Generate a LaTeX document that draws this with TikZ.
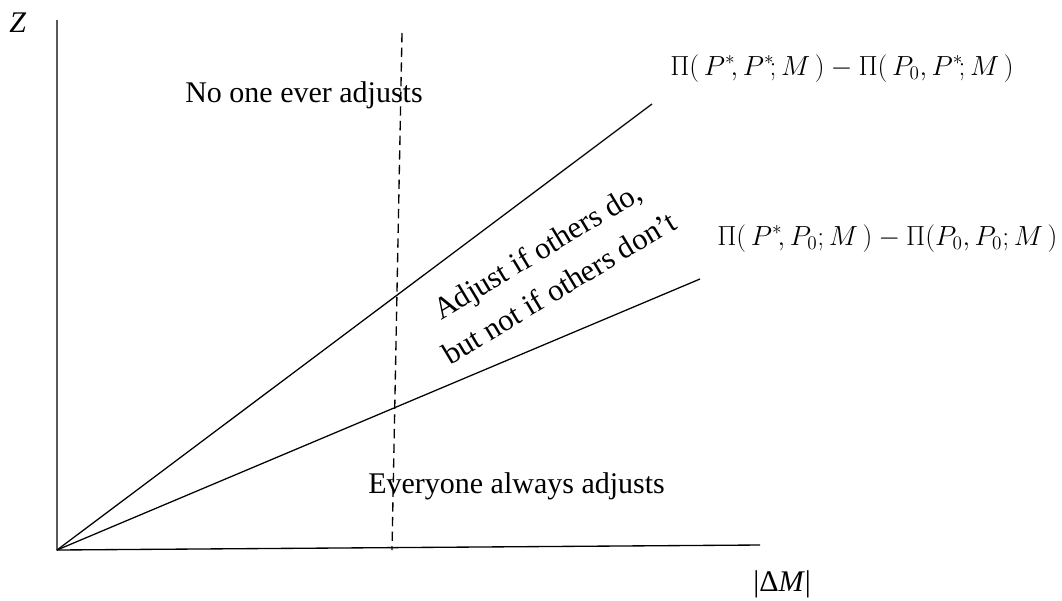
\documentclass[tikz,border=0pt]{standalone}
\usepackage{fontspec}
\setmainfont{Liberation Serif}
\begin{document}
\begin{tikzpicture}[x=0.75pt,y=-0.75pt,
  axis/.style={line width=1pt},
  curve/.style={line width=0.95pt},
  lbl/.style={inner sep=0pt,font=\fontsize{22.5}{27}\selectfont},
  frm/.style={inner sep=0pt,anchor=base west,font=\fontsize{20}{24}\selectfont}]
\useasboundingbox (0,0) rectangle (1062,600);
\coordinate (O) at (57,550);
\coordinate (ytop) at (57,20);
\coordinate (xend) at (760,545);
\coordinate (u) at (652,104);
\coordinate (l) at (700,279);
\coordinate (dtop) at (402,33);
\coordinate (dbot) at (392,550);
\draw[axis] (ytop) -- (O) -- (xend);
\draw[curve] (O) -- (u);
\draw[curve] (O) -- (l);
\draw[line width=1pt,dash pattern=on 7pt off 4pt] (dtop) -- (dbot);
\node[lbl,anchor=base west] (z) at (9,32) {\itshape Z};
\node[lbl,anchor=base west] (dm) at (753,591) {|Δ\textit{M}|};
\node[lbl,anchor=base west] (no) at (185,102) {No one ever adjusts};
\node[lbl,anchor=base west] (ev) at (368,493) {Everyone always adjusts};
\node[inner sep=0pt,font=\fontsize{23}{32}\selectfont,rotate=31,align=center] (mid) at (548,269) {Adjust if others do,\\but not if others don’t};
\node[frm] (f1) at (670,75) {$\Pi\Big(\,P^{*}\!,P^{*}\!;M\,\Big)-\Pi\Big(\,P_0,P^{*}\!;M\,\Big)$};
\node[frm] (f2) at (717,245) {$\Pi\Big(\,P^{*}\!,P_0;M\,\Big)-\Pi\Big(P_0,P_0;M\,\Big)$};
\end{tikzpicture}
\end{document}
